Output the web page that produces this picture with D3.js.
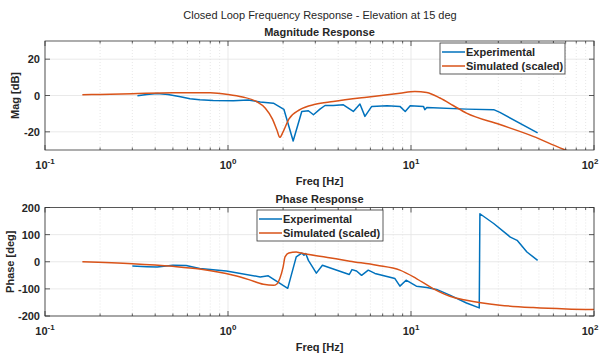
<!DOCTYPE html>
<html><head><meta charset="utf-8">
<script src="https://cdn.jsdelivr.net/npm/d3@7"></script>
<style>
body{margin:0;background:#fff}
svg{display:block}
text{font-family:"Liberation Sans",Arial,Helvetica,sans-serif;fill:#262626}
</style>
</head><body>
<svg id="chart" width="600" height="355"></svg>
<script>
// ---------- data ----------
const mainTitle = "Closed Loop Frequency Response - Elevation at 15 deg";
const seriesNames = ["Experimental", "Simulated (scaled)"];
const xTickValues = [0.1, 1, 10, 100];
const xTickExponents = ["-1", "0", "1", "2"];
const magTicks = [-20, 0, 20];
const phaseTicks = [-200, -100, 0, 100, 200];

const magFreqExp = [0.32,0.36,0.41,0.47,0.55,0.62,0.70,0.83,1.07,1.29,1.50,1.77,2.02,2.27,2.53,2.75,2.93,3.18,3.39,3.76,4.27,4.84,5.26,5.60,6.10,7.40,8.70,9.30,9.90,11.7,11.9,12.2,20.1,28.3,30.6,49.2];
const magExp     = [-0.2,0.6,1.1,0.5,-0.7,-1.8,-2.4,-2.7,-2.9,-2.5,-3.6,-4.2,-7.6,-25,-8.8,-8.4,-10.6,-7.5,-5.5,-5.5,-5.1,-8.8,-4.7,-11.5,-6.0,-5.6,-6.0,-8.8,-5.6,-6.0,-7.8,-6.6,-7.5,-7.8,-9.3,-20.6];

const magFreqSim = [0.16,0.2,0.3,0.5,0.8,1.0,1.2,1.43,1.6,1.75,1.85,1.92,2.0,2.15,2.47,3.0,3.76,5.73,8.7,10.5,12.2,14.4,17,20.1,30.6,46.5,65.2,100];
const magSim     = [0.4,0.6,1.0,1.5,1.5,0.6,-0.8,-3.3,-7,-13,-19,-23,-20,-13,-7.8,-4.8,-3.3,-0.9,1.3,2.2,1.6,-1.4,-5.5,-9.7,-16,-22.5,-28.8,-36];

const phaseFreqExp = [0.30,0.36,0.41,0.50,0.59,0.70,0.98,1.5,1.66,2.12,2.36,2.53,2.60,2.66,2.75,3.04,3.28,4.6,4.76,5.04,5.37,5.84,6.35,8.17,8.7,9.4,10.7,12.2,13.8,16.3,20.1,23.6,23.8,28.3,34.9,38,43,49.2];
const phaseExp     = [-16,-18,-19,-13,-14,-25,-34,-56,-52,-98,18,32,24,30,5,-42,-13,-47,-29,-34,-50,-31,-43,-62,-90,-68,-90,-95,-102,-123,-152,-170,177,141,91,79,36,5];

const phaseFreqSim = [0.16,0.3,0.5,0.7,1.07,1.3,1.56,1.77,1.85,1.92,2.0,2.05,2.15,2.36,2.47,3.5,4.63,6.5,8.7,10.7,13.2,16.3,20.1,30.6,46.5,70.6,100];
const phaseSim     = [0,-7,-17,-27,-50,-66,-83,-87,-82,-62,-20,18,32,36,33,16,2,-13,-31,-62,-99,-127,-142,-160,-169,-174,-176];

// ---------- drawing ----------
const svg = d3.select("#chart");
const colors = ["#0072BD", "#D95319"];
const left = 45, right = 594;
const x = d3.scaleLog().domain([0.1, 100]).range([left, right]);
const minorTicks = [];
[0.1, 1, 10].forEach(d => { for (let k = 2; k <= 9; k++) minorTicks.push(d * k); });

svg.append("text").attr("x", 320).attr("y", 19).attr("text-anchor", "middle")
  .style("font-size", "11px").text(mainTitle);

function panel(cfg) {
  const y = d3.scaleLinear().domain(cfg.domain).range([cfg.bottom, cfg.top]);
  const g = svg.append("g");
  const clipId = "clip" + cfg.id;
  svg.append("defs").append("clipPath").attr("id", clipId)
    .append("rect").attr("x", left).attr("y", cfg.top).attr("width", right - left).attr("height", cfg.bottom - cfg.top);

  g.append("rect").attr("x", left).attr("y", cfg.top).attr("width", right - left).attr("height", cfg.bottom - cfg.top).attr("fill", "#fff");

  // minor grid
  g.selectAll(".mg").data(minorTicks).join("line")
    .attr("x1", d => x(d)).attr("x2", d => x(d)).attr("y1", cfg.top).attr("y2", cfg.bottom)
    .attr("stroke", "#d6d6d6").attr("stroke-width", 0.6).attr("stroke-dasharray", "1,2");
  // major grid
  g.selectAll(".xg").data(xTickValues).join("line")
    .attr("x1", d => x(d)).attr("x2", d => x(d)).attr("y1", cfg.top).attr("y2", cfg.bottom)
    .attr("stroke", "#e3e3e3").attr("stroke-width", 0.8);
  g.selectAll(".yg").data(cfg.ticks).join("line")
    .attr("x1", left).attr("x2", right).attr("y1", d => y(d)).attr("y2", d => y(d))
    .attr("stroke", "#e3e3e3").attr("stroke-width", 0.8);

  // series
  const lineGen = d3.line().x(d => x(d[0])).y(d => y(d[1]));
  const pg = g.append("g").attr("clip-path", `url(#${clipId})`);
  cfg.series.forEach((s, i) => {
    const pts = s.f.map((f, j) => [f, s.v[j]]);
    pg.append("path").datum(pts)
      .attr("d", lineGen.curve(s.smooth ? d3.curveMonotoneX : d3.curveLinear))
      .attr("fill", "none").attr("stroke", colors[i]).attr("stroke-width", 1.5)
      .attr("stroke-linejoin", "round");
  });

  // ticks (inside, both sides)
  const tk = g.append("g").attr("stroke", "#333").attr("stroke-width", 0.8);
  xTickValues.forEach(d => {
    tk.append("line").attr("x1", x(d)).attr("x2", x(d)).attr("y1", cfg.bottom).attr("y2", cfg.bottom - 5);
    tk.append("line").attr("x1", x(d)).attr("x2", x(d)).attr("y1", cfg.top).attr("y2", cfg.top + 5);
  });
  minorTicks.forEach(d => {
    tk.append("line").attr("x1", x(d)).attr("x2", x(d)).attr("y1", cfg.bottom).attr("y2", cfg.bottom - 2.5);
    tk.append("line").attr("x1", x(d)).attr("x2", x(d)).attr("y1", cfg.top).attr("y2", cfg.top + 2.5);
  });
  cfg.ticks.forEach(d => {
    tk.append("line").attr("x1", left).attr("x2", left + 5).attr("y1", y(d)).attr("y2", y(d));
    tk.append("line").attr("x1", right).attr("x2", right - 5).attr("y1", y(d)).attr("y2", y(d));
  });

  // box
  g.append("rect").attr("x", left).attr("y", cfg.top).attr("width", right - left).attr("height", cfg.bottom - cfg.top)
    .attr("fill", "none").attr("stroke", "#333").attr("stroke-width", 0.8);

  // y tick labels
  g.selectAll(".yl").data(cfg.ticks).join("text")
    .attr("x", left - 5).attr("y", d => y(d) + 4).attr("text-anchor", "end")
    .style("font-size", "11px").style("font-weight", "bold").text(d => d);

  // x tick labels with superscripts (kept inside the 600px frame)
  xTickValues.forEach((d, i) => {
    const t = g.append("text").attr("x", x(d)).attr("y", cfg.bottom + 19).attr("text-anchor", "middle")
      .style("font-size", "11px").style("font-weight", "bold");
    t.append("tspan").text("10");
    t.append("tspan").attr("dy", -5).style("font-size", "8px").text(xTickExponents[i]);
    const bb = t.node().getBBox();
    if (bb.x + bb.width > 599) t.attr("x", x(d) - (bb.x + bb.width - 599));
  });

  // axis labels + title
  g.append("text").attr("x", (left + right) / 2).attr("y", cfg.bottom + 35).attr("text-anchor", "middle")
    .style("font-size", "11px").style("font-weight", "bold").text("Freq [Hz]");
  g.append("text").attr("transform", `translate(${cfg.ylx},${(cfg.top + cfg.bottom) / 2}) rotate(-90)`)
    .attr("text-anchor", "middle").style("font-size", "11px").style("font-weight", "bold").text(cfg.ylabel);
  g.append("text").attr("x", (left + right) / 2).attr("y", cfg.top - 5).attr("text-anchor", "middle")
    .style("font-size", "11px").style("font-weight", "bold").text(cfg.title);

  // legend
  const L = cfg.legend;
  const lg = g.append("g").attr("transform", `translate(${L.x},${L.y})`);
  lg.append("rect").attr("width", L.w).attr("height", 31).attr("fill", "#fff")
    .attr("stroke", "#333").attr("stroke-width", 0.8);
  seriesNames.forEach((n, i) => {
    const yy = 9 + i * 14;
    lg.append("line").attr("x1", 2).attr("x2", 25).attr("y1", yy).attr("y2", yy)
      .attr("stroke", colors[i]).attr("stroke-width", 1.5);
    lg.append("text").attr("x", 26).attr("y", yy + 4)
      .style("font-size", "11px").style("font-weight", "bold").text(n);
  });
}

panel({
  id: "mag", top: 41, bottom: 150, domain: [-30, 30], ticks: magTicks,
  title: "Magnitude Response", ylabel: "Mag [dB]", ylx: 19,
  legend: { x: 440, y: 43, w: 125 },
  series: [{ f: magFreqExp, v: magExp, smooth: false }, { f: magFreqSim, v: magSim, smooth: true }]
});
panel({
  id: "phase", top: 207.5, bottom: 316, domain: [-200, 200], ticks: phaseTicks,
  title: "Phase Response", ylabel: "Phase [deg]", ylx: 14,
  legend: { x: 257, y: 210, w: 126 },
  series: [{ f: phaseFreqExp, v: phaseExp, smooth: false }, { f: phaseFreqSim, v: phaseSim, smooth: true }]
});
</script>
</body></html>
